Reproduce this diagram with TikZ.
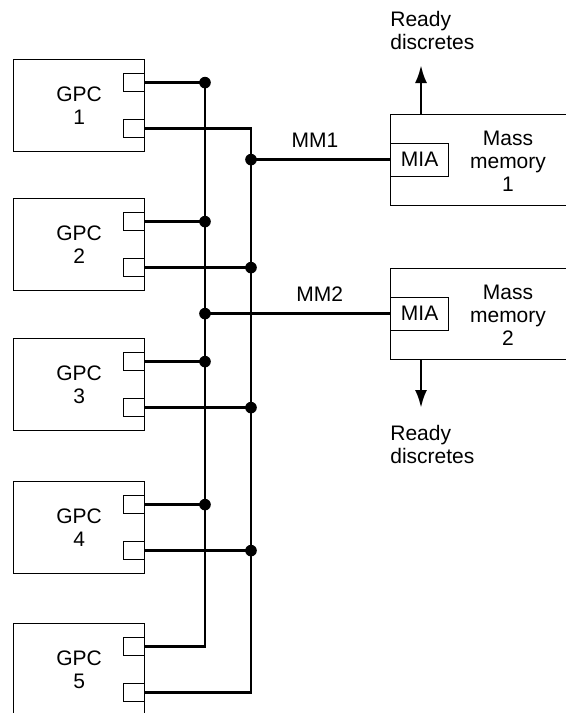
\documentclass[tikz,border=0pt]{standalone}
\usepackage{fontspec}
\setmainfont{Liberation Sans}
\usetikzlibrary{positioning, arrows.meta}

\begin{document}
\begin{tikzpicture}[
        x=0.5pt, y=-0.5pt,
        font=\fontsize{10.5}{11.5}\selectfont,
        gpc/.style={rectangle, draw=black, line width=0.6pt, minimum width=65.5pt, minimum height=46pt, align=center, inner sep=0pt},
        port/.style={rectangle, draw=black, line width=0.6pt, minimum width=10.5pt, minimum height=9pt, inner sep=0pt},
        memory/.style={rectangle, draw=black, line width=0.6pt, minimum width=90pt, minimum height=45.5pt, inner sep=0pt},
        mia/.style={rectangle, draw=black, line width=0.6pt, minimum width=29pt, minimum height=16.5pt, inner sep=0pt},
        bus/.style={line width=1.4pt},
        dot/.style={circle, fill=black, minimum size=5.8pt, inner sep=0pt},
        arrow/.style={-{Latex[length=9pt, width=6pt]}, line width=1.4pt},
        caption/.style={align=left, inner sep=0pt}
    ]

    \clip (0,0) rectangle (566,713);

    % Bus positions
    \coordinate (busA) at (205,0);
    \coordinate (busB) at (251,0);

    % GPC boxes with their two ports
    \foreach \i/\t in {1/59, 2/198, 3/338, 4/481, 5/623} {
        \node[gpc, anchor=north west] (gpc\i) at (13,\t) {GPC\\\i};
        \node[port, below left=7pt and 0pt of gpc\i.north east] (pa\i) {};
        \node[port, below left=30pt and 0pt of gpc\i.north east] (pb\i) {};
    }

    % Mass memories
    \node[memory, anchor=north west] (mm1) at (390,113.5) {};
    \node[mia, anchor=west] (mia1) at (mm1.west) {MIA};
    \node[align=center, inner sep=0pt] (mm1txt) at (508,161.5) {Mass\\memory\\1};

    \node[memory, anchor=north west] (mm2) at (390,267.5) {};
    \node[mia, anchor=west] (mia2) at (mm2.west) {MIA};
    \node[align=center, inner sep=0pt] (mm2txt) at (508,315) {Mass\\memory\\2};

    % The two buses
    \draw[bus] (pa1.east) -| (pa5.east -| busA) -- (pa5.east);
    \draw[bus] (pb1.east) -| (pb5.east -| busB) -- (pb5.east);

    % Taps onto the buses
    \foreach \i in {1,...,4} {
        \draw[bus] (pa\i.east) -- (pa\i.east -| busA) node[dot] (da\i) {};
    }
    \foreach \i in {2,...,4} {
        \draw[bus] (pb\i.east) -- (pb\i.east -| busB) node[dot] (db\i) {};
    }

    % Links to mass memories
    \draw[bus] (mia1.west -| busB) node[dot] (dm1) {} -- node[pos=0.46, above=2pt] (lmm1) {MM1} (mia1.west);
    \draw[bus] (mia2.west -| busA) node[dot] (dm2) {} -- node[pos=0.62, above=2pt] (lmm2) {MM2} (mia2.west);

    % Ready discretes
    \coordinate (up1) at (421,65);
    \draw[arrow] (mm1.north -| up1) -- (up1);
    \node[caption, anchor=south west] (ready1) at (390,50) {Ready\\discretes};

    \coordinate (down2) at (421,408);
    \draw[arrow] (mm2.south -| down2) -- (down2);
    \node[caption, anchor=north west] (ready2) at (390,425) {Ready\\discretes};

\end{tikzpicture}
\end{document}
